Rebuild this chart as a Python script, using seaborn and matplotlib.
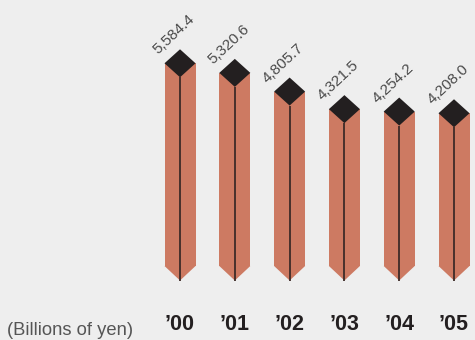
import matplotlib
matplotlib.use("Agg")
import matplotlib.pyplot as plt
from matplotlib.patches import Polygon
import seaborn as sns
import pandas as pd

years = ["\u201900", "\u201901", "\u201902", "\u201903", "\u201904", "\u201905"]
values = [5584.4, 5320.6, 4805.7, 4321.5, 4254.2, 4208.0]
value_labels = ["5,584.4", "5,320.6", "4,805.7", "4,321.5", "4,254.2", "4,208.0"]
unit_label = "(Billions of yen)"

BG = "#eeeeee"
BAR = "#cd7a62"
CAP = "#231f20"
EDGE = "#3d2b28"

sns.set_theme(style="white")
plt.rcParams["font.family"] = ["Liberation Sans", "DejaVu Sans"]

df = pd.DataFrame({"year": years, "value": values})

fig = plt.figure(figsize=(4.75, 3.4), dpi=100, facecolor=BG)
ax = fig.add_axes([0, 0, 1, 1], facecolor=BG)

half_w = 0.283
sns.barplot(data=df, x="year", y="value", color=BAR, width=2 * half_w,
            saturation=1, linewidth=0, ax=ax)

cap_h = 386      # half-height of the diamond top, in value units
tip_h = 400      # depth of the pointed foot below the baseline

for i, v in enumerate(values):
    # pointed foot
    ax.add_patch(Polygon([(i - half_w, 0), (i + half_w, 0), (i, -tip_h)],
                         closed=True, facecolor=BAR, edgecolor="none"))
    # centre ridge
    ax.plot([i, i], [-tip_h, v - cap_h], color=EDGE, lw=1.3,
            solid_capstyle="butt")
    # diamond cap
    ax.add_patch(Polygon([(i - half_w, v), (i, v + cap_h), (i + half_w, v),
                          (i, v - cap_h)], closed=True, facecolor=CAP,
                         edgecolor="none", zorder=3))
    ax.annotate(value_labels[i], (i, v + cap_h), xytext=(-16, -4),
                textcoords="offset points", rotation=43,
                rotation_mode="anchor", ha="left", va="baseline",
                fontsize=11, color="#4a4a4a")

for i, y in enumerate(years):
    ax.text(i, -1763, y, ha="center", va="baseline", fontsize=15.5,
            fontweight="bold", color="#231f20")

ax.text(-3.15, -1901, unit_label, ha="left", va="baseline", fontsize=13.2,
        color="#555555")

ax.set_xlim(-3.285, 5.383)
ax.set_ylim(-2039, 7328)
ax.set_axis_off()

fig.savefig("out.png", dpi=100, facecolor=BG)
